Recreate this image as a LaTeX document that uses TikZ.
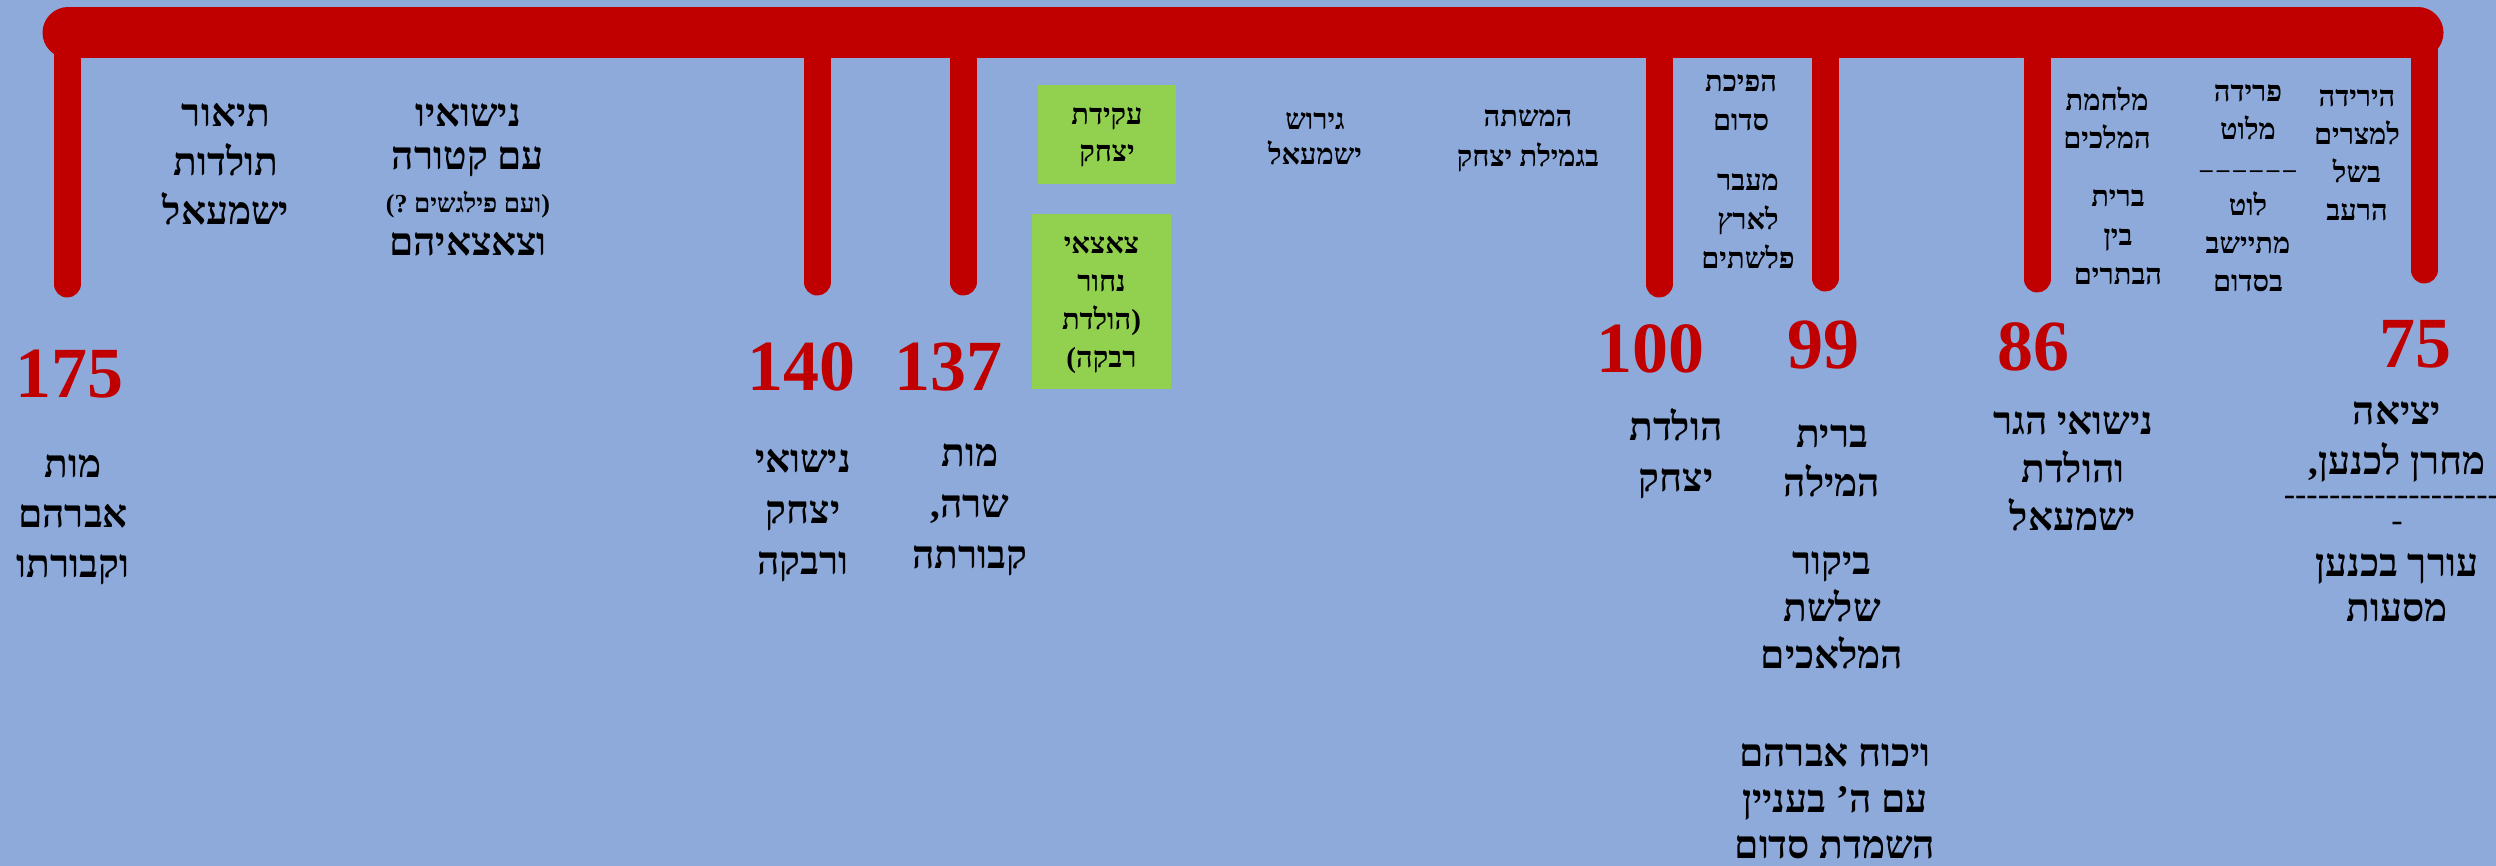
\documentclass[tikz,border=0pt]{standalone}
\usepackage{fontspec}
\newfontfamily\heb[Script=Hebrew]{Liberation Serif}
\newfontfamily\numf{Liberation Serif}
\TeXXeTstate=1
\definecolor{bgblue}{HTML}{8EAADB}
\definecolor{barred}{HTML}{C00000}
\definecolor{boxgreen}{HTML}{92D050}
\newcommand\RL[1]{\beginR\rule[-0.2em]{0pt}{1em}#1\endR}
\newcommand\SL{\rule[-0.2em]{0pt}{1em}}
\newcommand\dsh{-\kern0pt}
\newcommand\dashfont{\fontsize{34}{26}\selectfont\mdseries}
\newcommand\tightlines{\lineskiplimit=-100pt\lineskip=0pt}
\tikzset{
  bigtxt/.style={font=\heb\bfseries\fontsize{39}{#1}\selectfont\tightlines, align=center, inner sep=0pt, text=black},
  bigtxt/.default=48,
  smalltxt/.style={font=\heb\bfseries\fontsize{29}{#1}\selectfont\tightlines, align=center, inner sep=0pt, text=black},
  smalltxt/.default=38,
  yearnum/.style={font=\numf\bfseries\fontsize{72}{72}\selectfont, text=barred, anchor=base, inner sep=0pt},
  barline/.style={draw=barred, line width=51pt, line cap=round},
  tickline/.style={draw=barred, line width=27pt, line cap=round},
  greenbox/.style={fill=boxgreen, draw=none}
}
\begin{document}
\begin{tikzpicture}[x=1pt,y=-1pt]
\fill[bgblue] (0,0) rectangle (2496,866);
\useasboundingbox (0,0) rectangle (2496,866);
% timeline bar
\coordinate (barL) at (68,33);
\coordinate (barR) at (2418,33);
\draw[barline] (barL) -- (barR);
% ticks
\foreach \nm/\xx/\yb in {k175/67/284, k140/817/282, k137/963/282, k100/1659/284, k99/1825/278, k86/2037/279, k75/2424/270}{
  \coordinate (\nm t) at (\xx,33);
  \coordinate (\nm b) at (\xx,\yb);
  \draw[tickline] (\nm t) -- (\nm b);
}
% years
\node[yearnum] (n175) at (69,397) {175};
\node[yearnum] (n140) at (801,390) {140};
\node[yearnum] (n137) at (948,390) {137};
\node[yearnum] (n100) at (1650,372) {100};
\node[yearnum] (n99) at (1823,368) {99};
\node[yearnum] (n86) at (2033,370) {86};
\node[yearnum] (n75) at (2415,367) {75};
% lower labels
\node[bigtxt=50] (d175) at (73,516) {\RL{מות}\\\RL{אברהם}\\\RL{וקבורתו}};
\node[bigtxt=51] (d140) at (803,512) {\RL{נישואי}\\\RL{יצחק}\\\RL{ורבקה}};
\node[bigtxt=51] (d137) at (970,506) {\RL{מות}\\\RL{שרה\kern0pt,}\\\RL{קבורתה}};
\node[bigtxt=51] (d100) at (1676,454) {\RL{הולדת}\\\RL{יצחק}};
\node[bigtxt=49] (d99a) at (1832,460) {\RL{ברית}\\\RL{המילה}};
\node[bigtxt=47] (d99b) at (1832,610) {\RL{ביקור}\\\RL{שלשת}\\\RL{המלאכים}};
\node[bigtxt=46] (d99c) at (1835,801) {\RL{ויכוח אברהם}\\\RL{עם ה\kern0pt’ בעניין}\\\RL{השמדת סדום}};
\node[bigtxt=48] (d86) at (2073,471) {\RL{נישואי הגר}\\\RL{והולדת}\\\RL{ישמעאל}};
\node[bigtxt=26] (d75) at (2397,511.5) {\RL{יציאה}\\[24pt]\RL{מחרן לכנען\kern0pt,}\\[5pt]{\dashfont\SL\dsh\dsh\dsh\dsh\dsh\dsh\dsh\dsh\dsh\dsh\dsh\dsh\dsh\dsh\dsh\dsh\dsh\dsh\dsh\dsh}\\{\dashfont\SL\dsh}\\[19pt]\RL{עורך בכנען}\\[19pt]\RL{מסעות}};
% upper labels
\node[bigtxt=49] (u1) at (226,164) {\RL{תיאור}\\\RL{תולדות}\\\RL{ישמעאל}};
\node[bigtxt=43] (u2) at (468,179) {\RL{נישואיו}\\\RL{עם קטורה}\\{\fontsize{26}{43}\selectfont\RL{(\kern0pt ועם פילגשים ?\kern0pt)}}\\\RL{וצאצאיהם}};
\node[greenbox, smalltxt=37, minimum width=138pt, minimum height=99pt] (b1) at (1107,134.5) {\RL{עקידת}\\\RL{יצחק}};
\node[greenbox, smalltxt=38, minimum width=139pt, minimum height=175pt] (b2) at (1101.5,301.5) {\RL{צאצאי}\\\RL{נחור}\\\RL{(\kern0pt הולדת}\\\RL{רבקה\kern0pt)}};
\node[smalltxt=35] (u3) at (1315,138) {\RL{גירוש}\\\RL{ישמעאל}};
\node[smalltxt=40] (u4) at (1528,138) {\RL{המשתה}\\\RL{בגמילת יצחק}};
\node[smalltxt=39] (u5) at (1741,102) {\RL{הפיכת}\\\RL{סדום}};
\node[smalltxt=39] (u6) at (1748,221) {\RL{מעבר}\\\RL{לארץ}\\\RL{פלשתים}};
\node[smalltxt=38] (u7) at (2107,121) {\RL{מלחמת}\\\RL{המלכים}};
\node[smalltxt=39] (u8) at (2118,237) {\RL{ברית}\\\RL{בין}\\\RL{הבתרים}};
\node[smalltxt=38] (u9) at (2248,188) {\RL{פרידה}\\\RL{מלוט}\\\RL{{\fontsize{25}{38}\selectfont –\,–\,–\,–\,–\,–}}\\\RL{לוט}\\\RL{מתיישב}\\\RL{בסדום}};
\node[smalltxt=38] (u10) at (2357,155) {\RL{הירידה}\\\RL{למצרים}\\\RL{בשל}\\\RL{הרעב}};
\end{tikzpicture}
\end{document}
